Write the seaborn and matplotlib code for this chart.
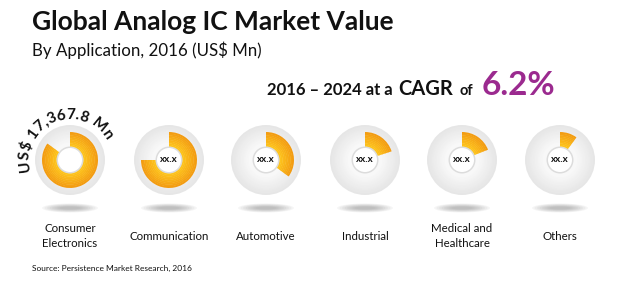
import numpy as np
import matplotlib
matplotlib.use("Agg")
import matplotlib.pyplot as plt
import seaborn as sns
from matplotlib.patches import Circle, Ellipse
from matplotlib.textpath import TextToPath
from matplotlib.font_manager import FontProperties
from matplotlib.colors import to_rgb

# ---- data ----
categories = ["Consumer\nElectronics", "Communication", "Automotive",
              "Industrial", "Medical and\nHealthcare", "Others"]
shares = [0.85, 0.75, 0.35, 0.20, 0.19, 0.10]
center_labels = ["", "xx.x", "xx.x", "xx.x", "xx.x", "xx.x"]
title = "Global Analog IC Market Value"
subtitle = "By Application, 2016 (US$ Mn)"
cagr_parts = ["2016 \u2013 2024 at a", "CAGR", "of"]
cagr_value = "6.2%"
highlight_value = "US$ 17,367.8 Mn"
source = "Source: Persistence Market Research, 2016"

sns.set_theme(style="white")
plt.rcParams['font.family'] = ['Lato', 'DejaVu Sans']

W, H = 620, 282
fig = plt.figure(figsize=(W / 100, H / 100), dpi=100)
ax = fig.add_axes([0, 0, 1, 1])

def Y(y):
    return H - y

xs = [70, 169, 266, 365, 462, 560]
cy = 160
r_gray = 35
r_out = 28
r_in = 12

orange = np.array(to_rgb("#F39C12"))
yellow = np.array(to_rgb("#FFC81E"))

for i, (cat, v) in enumerate(zip(categories, shares)):
    cx = xs[i]
    # shadow
    for k in range(8):
        ax.add_patch(Ellipse((cx, Y(208)), 56 - k * 5, 9 - k * 0.9,
                             facecolor="#606060", edgecolor="none", alpha=0.06, zorder=1))
    # gray disk with radial gradient
    n = 12
    for k in range(n):
        t = k / (n - 1)
        c = (1 - t) * np.array(to_rgb("#E6E6E6")) + t * np.array(to_rgb("#F8F8F8"))
        ax.add_patch(Circle((cx, Y(cy)), r_gray * (1 - 0.5 * t), facecolor=c,
                            edgecolor="none", zorder=2))
    # orange wedge with radial gradient
    nb = 10
    for k in range(nb):
        t = k / (nb - 1)
        rr = r_out - (r_out - r_in) * k / nb
        c = (1 - t) * orange + t * yellow
        ax.pie([v, 1 - v], center=(cx, Y(cy)), radius=rr, startangle=90,
               counterclock=False, colors=[c, (0, 0, 0, 0)],
               wedgeprops=dict(width=(r_out - r_in) / nb + 0.4, linewidth=0,
                               zorder=3 + k * 0.01),
               frame=True)
    # inner white circle
    ax.add_patch(Circle((cx, Y(cy)), r_in + 1.5, facecolor="#DCDCDC",
                        edgecolor="none", zorder=5))
    ax.add_patch(Circle((cx, Y(cy)), r_in, facecolor="white",
                        edgecolor="none", zorder=6))
    if center_labels[i]:
        ax.text(cx, Y(cy), center_labels[i], ha="center", va="center",
                fontsize=7, fontweight="bold", color="#111111", zorder=7)
    # category label
    ax.text(cx, Y(236), cat, ha="center", va="center", fontsize=8.3,
            color="#111111", linespacing=1.35, zorder=7)

# curved highlight text around first donut
fp = FontProperties(family="Lato", weight="bold", size=11)
ttp = TextToPath()
r_txt = 41
def wpx(s):
    return ttp.get_text_width_height_descent(s, fp, ismath=False)[0] / 0.72 if s else 0
total_w = wpx(highlight_value)
ang_span = total_w / r_txt
mid_ang = np.deg2rad(112)
start_ang = mid_ang + ang_span / 2
for j, ch in enumerate(highlight_value):
    if not ch.strip():
        continue
    s = wpx(highlight_value[:j]) + wpx(ch) / 2
    a = start_ang - s / r_txt
    px = xs[0] + r_txt * np.cos(a)
    py = Y(cy) + r_txt * np.sin(a)
    ax.text(px, py, ch, fontproperties=fp, color="#111111",
            rotation=np.rad2deg(a) - 90, rotation_mode="anchor",
            ha="center", va="baseline", zorder=8)

# titles
ax.text(32, Y(22), title, fontsize=19, fontweight="bold", color="#111111",
        ha="left", va="center")
ax.text(32, Y(50), subtitle, fontsize=12.2, color="#111111",
        ha="left", va="center")
ax.text(267, Y(95), cagr_parts[0], fontsize=12, fontweight="bold",
        color="#111111", ha="left", va="baseline")
ax.text(398, Y(95), cagr_parts[1], fontsize=14.5, fontweight="bold",
        color="#111111", ha="left", va="baseline")
ax.text(460, Y(95), cagr_parts[2], fontsize=10.5, fontweight="bold",
        color="#111111", ha="left", va="baseline")
ax.text(482, Y(95), cagr_value, fontsize=24, fontweight="bold",
        color="#9B2A8F", ha="left", va="baseline")
ax.text(32, Y(268), source, fontsize=6, color="#111111", ha="left", va="center")

ax.set_xlim(0, W)
ax.set_ylim(0, H)
ax.set_aspect("auto")
ax.axis("off")
fig.savefig("out.png", dpi=100, facecolor="white")
